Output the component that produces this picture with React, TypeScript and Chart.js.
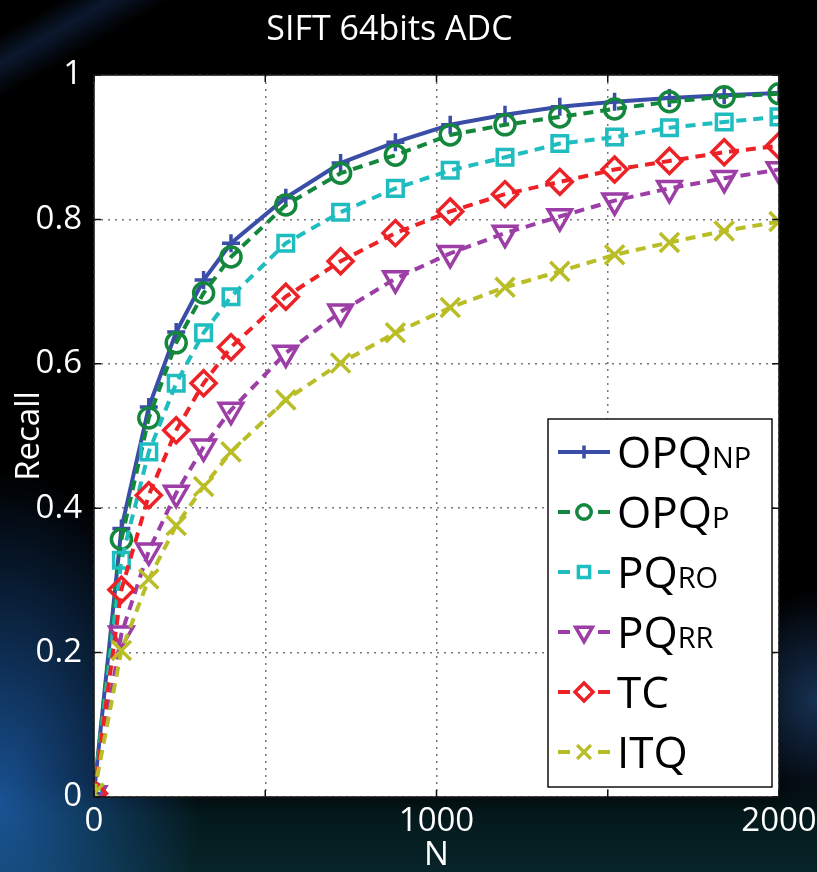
import React, { useEffect, useRef } from 'react';
import { Chart, registerables } from 'chart.js';
import { drawPoint } from 'chart.js/helpers';

Chart.register(...registerables);

// ---- data ----
const N_VALUES = [0, 80, 160, 240, 320, 400, 560, 720, 880, 1040, 1200, 1360, 1520, 1680, 1840, 2000];
const OPQ_NP = [0.005, 0.372, 0.54, 0.644, 0.716, 0.767, 0.83, 0.878, 0.907, 0.931, 0.945, 0.956, 0.963, 0.968, 0.972, 0.975];
const OPQ_P = [0.005, 0.357, 0.525, 0.629, 0.698, 0.748, 0.82, 0.864, 0.889, 0.917, 0.931, 0.942, 0.953, 0.963, 0.97, 0.974];
const PQ_RO = [0.005, 0.328, 0.478, 0.573, 0.643, 0.693, 0.767, 0.81, 0.843, 0.868, 0.886, 0.905, 0.914, 0.927, 0.935, 0.942];
const PQ_RR = [0.005, 0.226, 0.341, 0.421, 0.485, 0.536, 0.615, 0.672, 0.718, 0.753, 0.781, 0.804, 0.826, 0.843, 0.857, 0.869];
const TC = [0.005, 0.287, 0.418, 0.508, 0.573, 0.623, 0.693, 0.742, 0.781, 0.811, 0.835, 0.852, 0.869, 0.881, 0.893, 0.902];
const ITQ = [0.005, 0.203, 0.302, 0.376, 0.43, 0.478, 0.55, 0.601, 0.643, 0.678, 0.706, 0.728, 0.751, 0.768, 0.784, 0.797];

const SERIES_NAMES = ['OPQ', 'OPQ', 'PQ', 'PQ', 'TC', 'ITQ'];
const SERIES_SUBS = ['NP', 'P', 'RO', 'RR', '', ''];
const SERIES_VALUES = [OPQ_NP, OPQ_P, PQ_RO, PQ_RR, TC, ITQ];
const SERIES_COLORS = ['#3a4ea8', '#13873c', '#1fbcc0', '#9c3ea6', '#ec2227', '#b9bd26'];
const SERIES_MARKERS = ['cross', 'circle', 'rect', 'triangle', 'rectRot', 'crossRot'];
const SERIES_MARKER_RADIUS = [9, 10, 11, 13.5, 12.5, 13.5];
const SERIES_MARKER_ROT = [0, 0, 0, 180, 0, 0];
const SERIES_SOLID = [true, false, false, false, false, false];

const TITLE = 'SIFT 64bits ADC';
const X_LABEL = 'N';
const Y_LABEL = 'Recall';

const FONT = "'Open Sans', 'Noto Sans', sans-serif";

const plotBgPlugin = {
  id: 'plotBg',
  beforeDraw(chart: any) {
    const { ctx, chartArea: a } = chart;
    ctx.save();
    ctx.fillStyle = '#ffffff';
    ctx.fillRect(a.left, a.top, a.right - a.left, a.bottom - a.top);
    ctx.restore();
  },
};

const boxPlugin = {
  id: 'boxTicks',
  afterDatasetsDraw(chart: any) {
    const { ctx, chartArea: a, scales } = chart;
    ctx.save();
    ctx.strokeStyle = '#111';
    ctx.lineWidth = 1.5;
    ctx.setLineDash([]);
    ctx.strokeRect(a.left, a.top, a.right - a.left, a.bottom - a.top);
    const tl = 7;
    ctx.beginPath();
    scales.x.ticks.forEach((t: any) => {
      const px = scales.x.getPixelForValue(t.value);
      ctx.moveTo(px, a.bottom);
      ctx.lineTo(px, a.bottom - tl);
      ctx.moveTo(px, a.top);
      ctx.lineTo(px, a.top + tl);
    });
    scales.y.ticks.forEach((t: any) => {
      const py = scales.y.getPixelForValue(t.value);
      ctx.moveTo(a.left, py);
      ctx.lineTo(a.left + tl, py);
      ctx.moveTo(a.right, py);
      ctx.lineTo(a.right - tl, py);
    });
    ctx.stroke();
    ctx.restore();
  },
};

const legendPlugin = {
  id: 'customLegend',
  afterDraw(chart: any) {
    const { ctx, chartArea: a } = chart;
    const left = a.right - 231;
    const right = a.right - 7;
    const top = 419;
    const bottom = 787;
    ctx.save();
    ctx.fillStyle = '#fff';
    ctx.fillRect(left, top, right - left, bottom - top);
    ctx.strokeStyle = '#111';
    ctx.lineWidth = 1.5;
    ctx.strokeRect(left, top, right - left, bottom - top);

    chart.data.datasets.forEach((ds: any, i: number) => {
      const cy = 452 + i * 60;
      const x0 = left + 10;
      const x1 = left + 62;
      ctx.save();
      ctx.strokeStyle = ds.borderColor;
      ctx.lineWidth = 4;
      ctx.setLineDash(SERIES_SOLID[i] ? [] : [12, 28]);
      ctx.beginPath();
      ctx.moveTo(x0, cy);
      ctx.lineTo(x1, cy);
      ctx.stroke();
      ctx.setLineDash([]);
      ctx.fillStyle = 'rgba(0,0,0,0)';
      ctx.lineWidth = 3.5;
      drawPoint(ctx, {
        pointStyle: ds.pointStyle,
        radius: ds.pointRadius * 0.72,
        rotation: ds.pointRotation,
        borderWidth: 3.5,
      } as any, (x0 + x1) / 2, cy);
      ctx.restore();

      ctx.fillStyle = '#000';
      ctx.textBaseline = 'alphabetic';
      ctx.textAlign = 'left';
      ctx.font = `44px ${FONT}`;
      const tx = left + 69;
      const by = cy + 16;
      ctx.fillText(SERIES_NAMES[i], tx, by);
      const w = ctx.measureText(SERIES_NAMES[i]).width;
      if (SERIES_SUBS[i]) {
        ctx.font = `29px ${FONT}`;
        ctx.fillText(SERIES_SUBS[i], tx + w, by);
      }
    });
    ctx.restore();
  },
};

function ChartView() {
  const ref = useRef<HTMLCanvasElement | null>(null);
  useEffect(() => {
    if (!ref.current) return;
    const datasets = SERIES_VALUES.map((vals, i) => ({
      label: SERIES_NAMES[i] + SERIES_SUBS[i],
      data: N_VALUES.map((x, k) => ({ x, y: vals[k] })),
      borderColor: SERIES_COLORS[i],
      backgroundColor: 'rgba(0,0,0,0)',
      borderWidth: 4,
      borderDash: SERIES_SOLID[i] ? [] : [10, 7],
      pointStyle: SERIES_MARKERS[i],
      pointRadius: SERIES_MARKER_RADIUS[i],
      pointRotation: SERIES_MARKER_ROT[i],
      pointBorderWidth: 3.5,
      pointBorderColor: SERIES_COLORS[i],
      pointBackgroundColor: 'rgba(0,0,0,0)',
      tension: 0,
      fill: false,
      order: SERIES_VALUES.length - i,
    }));
    const chart = new Chart(ref.current, {
      type: 'line',
      data: { datasets },
      options: {
        responsive: false,
        animation: false,
        events: [],
        layout: { padding: { left: 0, right: 38, top: 0, bottom: 0 } },
        plugins: {
          legend: { display: false },
          tooltip: { enabled: false },
          title: {
            display: true,
            text: TITLE,
            color: '#fff',
            font: { family: FONT, size: 34, weight: 'normal', lineHeight: 1.2 },
            padding: { top: 10, bottom: 24.2 },
          },
        },
        scales: {
          x: {
            type: 'linear',
            min: 0,
            max: 2000,
            ticks: {
              stepSize: 500,
              autoSkip: false,
              maxRotation: 0,
              color: '#fff',
              padding: 5,
              font: { family: FONT, size: 33 },
              callback: (v: any) => (Number(v) % 1000 === 0 ? String(v) : ''),
            },
            grid: { color: '#777', lineWidth: 1.5, drawTicks: false },
            border: { display: false, dash: [2, 5] },
            title: {
              display: true,
              text: X_LABEL,
              color: '#fff',
              font: { family: FONT, size: 33, lineHeight: 1 },
              padding: 0,
            },
            afterFit: (s: any) => {
              s.height = 75;
              s.paddingLeft = 0;
              s.paddingRight = 0;
            },
          },
          y: {
            min: 0,
            max: 1,
            ticks: {
              stepSize: 0.2,
              color: '#fff',
              padding: 12,
              font: { family: FONT, size: 33 },
              callback: (v: any) => String(Math.round(Number(v) * 10) / 10),
            },
            grid: { color: '#777', lineWidth: 1.5, drawTicks: false },
            border: { display: false, dash: [2, 5] },
            title: {
              display: true,
              text: Y_LABEL,
              color: '#fff',
              font: { family: FONT, size: 33, lineHeight: 1.2 },
              padding: { top: 10, bottom: 0 },
            },
            afterFit: (s: any) => {
              s.width = 94;
              s.paddingTop = 0;
              s.paddingBottom = 0;
            },
          },
        },
      },
      plugins: [plotBgPlugin, boxPlugin, legendPlugin],
    } as any);
    return () => chart.destroy();
  }, []);
  return <canvas ref={ref} width={817} height={872} style={{ display: 'block' }} />;
}

export default function App() {
  return (
    <div
      style={{
        position: 'fixed',
        left: 0,
        top: 0,
        width: 817,
        height: 872,
        overflow: 'hidden',
        background: [
          'radial-gradient(ellipse 200px 330px at 0px 800px, rgba(30,100,180,0.8), rgba(30,100,180,0) 100%)',
          'radial-gradient(ellipse 90px 110px at 817px 700px, rgba(40,90,150,0.55), rgba(40,90,150,0) 100%)',
          'linear-gradient(150deg, rgba(0,0,0,0) 0px, rgba(0,0,0,0) 30px, rgba(30,70,130,0.35) 55px, rgba(0,0,0,0) 85px)',
          'linear-gradient(to bottom, #000 0px, #000 780px, #04191c 815px, #072428 872px)',
        ].join(', '),
      }}
    >
      <ChartView />
    </div>
  );
}
